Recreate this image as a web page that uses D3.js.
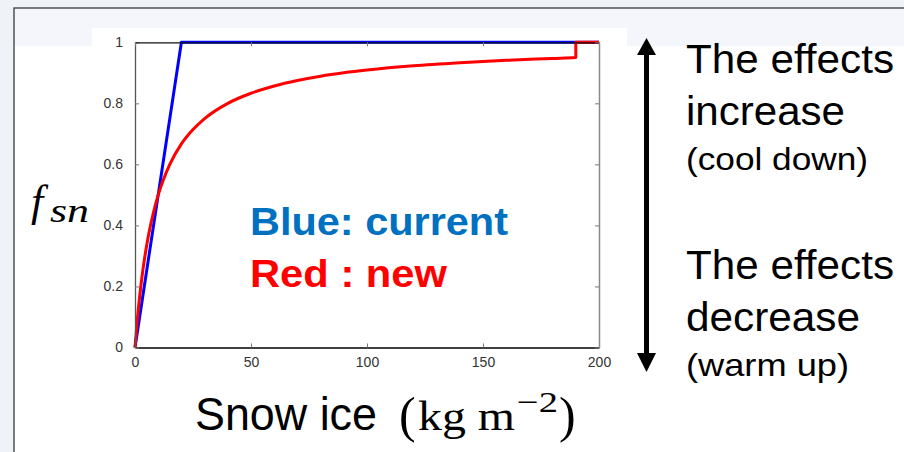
<!DOCTYPE html>
<html>
<head>
<meta charset="utf-8">
<script src="https://cdn.jsdelivr.net/npm/d3@7"></script>
<style>
  body { margin: 0; background: #eff2f7; }
  svg { display: block; }
</style>
</head>
<body>
<div class="fsn"></div>
<script>
// values
var blueX = [0, 20, 200];
var blueY = [0, 1, 1];

var redX = [0, 1, 2, 3, 4, 5, 6, 8, 10, 12, 15, 20, 25, 30, 40, 50, 60, 70, 80, 90, 100, 120, 140, 160, 180, 190, 190, 200];
var redY = [0, 0.091, 0.167, 0.231, 0.286, 0.333, 0.375, 0.444, 0.5, 0.545, 0.6, 0.667, 0.714, 0.75, 0.8, 0.833, 0.857, 0.875, 0.889, 0.9, 0.909, 0.923, 0.933, 0.941, 0.947, 0.95, 1, 1];

var xTicks = [0, 50, 100, 150, 200];
var yTicks = [0, 0.2, 0.4, 0.6, 0.8, 1];
var yTickLabels = ["0", "0.2", "0.4", "0.6", "0.8", "1"];

function drawFsn() {
    var width = 904,
        height = 452;

    var svg = d3.select(".fsn").append("svg")
        .attr("width", width)
        .attr("height", height);

    // slide background, header band and frame
    svg.append("rect")
        .attr("width", width).attr("height", height)
        .attr("fill", "#eff2f7");
    svg.append("rect")
        .attr("x", 14).attr("y", 8)
        .attr("width", 900).attr("height", 460)
        .attr("fill", "#ffffff");
    svg.append("rect")
        .attr("x", 14).attr("y", 8)
        .attr("width", 900).attr("height", 38)
        .attr("fill", "#f4f6fb");
    svg.append("rect")
        .attr("x", 92).attr("y", 28)
        .attr("width", 535).attr("height", 20)
        .attr("fill", "#ffffff");
    svg.append("rect")
        .attr("x", 14).attr("y", 8)
        .attr("width", 900).attr("height", 460)
        .attr("fill", "none")
        .attr("stroke", "#3a3a3a")
        .attr("stroke-width", 1.3);

    var x = d3.scaleLinear()
        .domain([0, 200])
        .range([135, 599]);

    var y = d3.scaleLinear()
        .domain([0, 1])
        .range([347.5, 42.3]);

    var line = d3.line()
        .x(function (d) { return x(d[0]); })
        .y(function (d) { return y(d[1]); });

    var blue = d3.zip(blueX, blueY);
    var red = d3.zip(redX, redY);

    svg.append("path")
        .attr("d", line(blue))
        .attr("fill", "none")
        .attr("stroke", "#0000ff")
        .attr("stroke-width", 3)
        .attr("stroke-linejoin", "round");

    svg.append("path")
        .attr("d", line.curve(d3.curveMonotoneX)(red))
        .attr("fill", "none")
        .attr("stroke", "#ff0000")
        .attr("stroke-width", 3)
        .attr("stroke-linejoin", "round");

    // frame: ticks point inward
    var xAxis = d3.axisBottom(x).tickValues(xTicks).tickSizeInner(-4).tickSizeOuter(0).tickPadding(10);
    var yAxis = d3.axisLeft(y).tickValues(yTicks).tickSizeInner(-4).tickSizeOuter(0).tickPadding(12)
        .tickFormat(function (d, i) { return yTickLabels[i]; });
    var xTop = d3.axisTop(x).tickValues(xTicks).tickSizeInner(-4).tickSizeOuter(0).tickFormat("");
    var yRight = d3.axisRight(y).tickValues(yTicks).tickSizeInner(-4).tickSizeOuter(0).tickFormat("");

    var gx = svg.append("g")
        .attr("transform", "translate(0," + y(0) + ")")
        .call(xAxis);
    var gy = svg.append("g")
        .attr("transform", "translate(" + x(0) + ",0)")
        .call(yAxis);
    var gt = svg.append("g")
        .attr("transform", "translate(0," + y(1) + ")")
        .call(xTop);
    var gr = svg.append("g")
        .attr("transform", "translate(" + x(200) + ",0)")
        .call(yRight);

    gx.select(".domain").attr("stroke", "#000").attr("stroke-width", 1.3);
    gy.select(".domain").attr("stroke", "#555").attr("stroke-width", 1.3);
    gt.select(".domain").attr("stroke", "#111").attr("stroke-width", 1.2);
    gr.select(".domain").attr("stroke", "#888").attr("stroke-width", 1.5);
    [gx, gy, gt, gr].forEach(function (g) {
        g.selectAll(".tick line").attr("stroke", "#777");
        g.attr("font-family", "Liberation Sans, Arial, sans-serif")
            .attr("font-size", 14);
        g.selectAll("text")
            .attr("fill", "#333");
    });

    // legend text inside the plot
    svg.append("text")
        .attr("x", 250).attr("y", 235)
        .attr("textLength", 258).attr("lengthAdjust", "spacingAndGlyphs")
        .attr("font-family", "Liberation Sans, Arial, sans-serif")
        .attr("font-weight", "bold")
        .attr("font-size", 39)
        .attr("fill", "#0070c0")
        .text("Blue: current");
    svg.append("text")
        .attr("x", 250).attr("y", 287)
        .attr("textLength", 197).attr("lengthAdjust", "spacingAndGlyphs")
        .attr("font-family", "Liberation Sans, Arial, sans-serif")
        .attr("font-weight", "bold")
        .attr("font-size", 39)
        .attr("fill", "#ff0000")
        .text("Red : new");

    // y label f_sn
    var ylab = svg.append("g")
        .attr("font-family", "Liberation Serif, DejaVu Serif, serif")
        .attr("font-style", "italic")
        .attr("fill", "#000");
    ylab.append("text")
        .attr("x", 31).attr("y", 216)
        .attr("font-size", 44)
        .text("f");
    ylab.append("text")
        .attr("x", 50).attr("y", 222)
        .attr("textLength", 39).attr("lengthAdjust", "spacingAndGlyphs")
        .attr("font-size", 34)
        .text("sn");

    // x label
    var lab = svg.append("g")
        .attr("fill", "#000");
    lab.append("text")
        .attr("x", 195).attr("y", 430)
        .attr("textLength", 182).attr("lengthAdjust", "spacingAndGlyphs")
        .attr("font-family", "Liberation Sans, Arial, sans-serif")
        .attr("font-size", 47)
        .text("Snow ice");
    lab.append("text")
        .attr("x", 399).attr("y", 432)
        .attr("font-family", "Liberation Serif, DejaVu Serif, serif")
        .attr("font-size", 50)
        .text("(");
    lab.append("text")
        .attr("x", 418).attr("y", 430)
        .attr("textLength", 97).attr("lengthAdjust", "spacingAndGlyphs")
        .attr("font-family", "Liberation Serif, DejaVu Serif, serif")
        .attr("font-size", 42)
        .text("kg m");
    lab.append("text")
        .attr("x", 517).attr("y", 412)
        .attr("textLength", 41).attr("lengthAdjust", "spacingAndGlyphs")
        .attr("font-family", "Liberation Serif, DejaVu Serif, serif")
        .attr("font-size", 30)
        .text("\u22122");
    lab.append("text")
        .attr("x", 559).attr("y", 432)
        .attr("font-family", "Liberation Serif, DejaVu Serif, serif")
        .attr("font-size", 50)
        .text(")");

    // double arrow on the right
    var ax = 646.5;
    svg.append("line")
        .attr("x1", ax).attr("x2", ax)
        .attr("y1", 52).attr("y2", 356)
        .attr("stroke", "#000")
        .attr("stroke-width", 5);
    svg.append("path")
        .attr("d", "M" + ax + ",38L" + (ax + 9.5) + ",55L" + (ax - 9.5) + ",55Z")
        .attr("fill", "#000");
    svg.append("path")
        .attr("d", "M" + ax + ",372L" + (ax + 9.5) + ",353L" + (ax - 9.5) + ",353Z")
        .attr("fill", "#000");

    var notes = [
        { text: "The effects", y: 73, size: 40, len: 208 },
        { text: "increase", y: 125, size: 40, len: 159 },
        { text: "(cool down)", y: 170, size: 32, len: 182 },
        { text: "The effects", y: 279, size: 40, len: 208 },
        { text: "decrease", y: 331, size: 40, len: 174 },
        { text: "(warm up)", y: 376, size: 32, len: 163 }
    ];
    svg.selectAll(".note")
        .data(notes)
        .enter().append("text")
        .attr("class", "note")
        .attr("x", 686)
        .attr("y", function (d) { return d.y; })
        .attr("textLength", function (d) { return d.len; })
        .attr("lengthAdjust", "spacingAndGlyphs")
        .attr("font-family", "Liberation Sans, Arial, sans-serif")
        .attr("font-size", function (d) { return d.size; })
        .attr("fill", "#000")
        .text(function (d) { return d.text; });
}

document.addEventListener("DOMContentLoaded", drawFsn);
</script>
</body>
</html>
